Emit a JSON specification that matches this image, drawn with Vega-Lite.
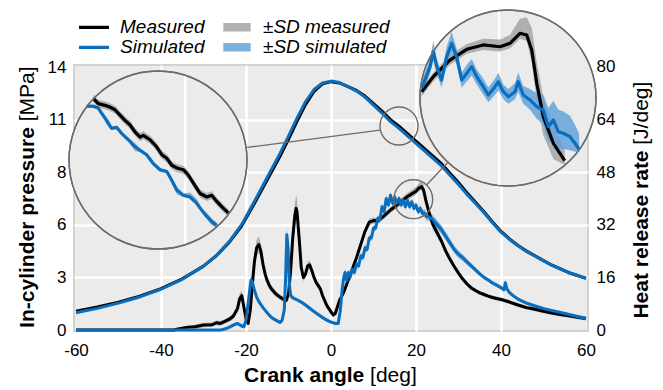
{
  "$schema": "https://vega.github.io/schema/vega-lite/v6.json",
  "width": 514,
  "height": 266,
  "autosize": {"type": "none"},
  "padding": {"left": 74, "top": 65, "right": 75, "bottom": 59},
  "background": "#ffffff",
  "config": {
    "font": "Liberation Sans",
    "view": {"fill": "#ebebeb", "stroke": "#d2d2d2", "strokeWidth": 2},
    "axis": {
      "labelFont": "Liberation Sans",
      "labelFontSize": 17,
      "labelColor": "#000000",
      "ticks": false,
      "tickSize": 0,
      "domain": false,
      "gridColor": "#ffffff",
      "gridWidth": 2.6,
      "titleFont": "Liberation Sans",
      "titleFontSize": 21,
      "titleColor": "#000000"
    },
    "legend": {
      "labelFont": "Liberation Sans",
      "labelFontSize": 19,
      "labelFontStyle": "italic",
      "labelColor": "#000000",
      "padding": 0,
      "rowPadding": 0,
      "clipHeight": 19.4
    }
  },
  "datasets": {
    "pmain": [
      {"a": -60, "s": "Measured", "v": 1.0}, {"a": -55, "s": "Measured", "v": 1.22}, {"a": -50, "s": "Measured", "v": 1.48},
      {"a": -45, "s": "Measured", "v": 1.8}, {"a": -40, "s": "Measured", "v": 2.2}, {"a": -35, "s": "Measured", "v": 2.72},
      {"a": -30, "s": "Measured", "v": 3.4}, {"a": -27, "s": "Measured", "v": 3.95}, {"a": -24, "s": "Measured", "v": 4.65},
      {"a": -21, "s": "Measured", "v": 5.55}, {"a": -18, "s": "Measured", "v": 6.75}, {"a": -15, "s": "Measured", "v": 8.0},
      {"a": -12, "s": "Measured", "v": 9.25}, {"a": -10, "s": "Measured", "v": 10.15}, {"a": -8, "s": "Measured", "v": 11.1},
      {"a": -6, "s": "Measured", "v": 12.0}, {"a": -4, "s": "Measured", "v": 12.7}, {"a": -2, "s": "Measured", "v": 13.1},
      {"a": 0, "s": "Measured", "v": 13.22}, {"a": 2, "s": "Measured", "v": 13.15}, {"a": 4, "s": "Measured", "v": 12.95},
      {"a": 6, "s": "Measured", "v": 12.75}, {"a": 8, "s": "Measured", "v": 12.45}, {"a": 10, "s": "Measured", "v": 12.05},
      {"a": 12, "s": "Measured", "v": 11.65}, {"a": 14, "s": "Measured", "v": 11.2}, {"a": 16, "s": "Measured", "v": 10.85},
      {"a": 18, "s": "Measured", "v": 10.45}, {"a": 20, "s": "Measured", "v": 10.05}, {"a": 22, "s": "Measured", "v": 9.65},
      {"a": 24, "s": "Measured", "v": 9.25}, {"a": 26, "s": "Measured", "v": 8.85}, {"a": 28, "s": "Measured", "v": 8.35},
      {"a": 30, "s": "Measured", "v": 7.85}, {"a": 32, "s": "Measured", "v": 7.3}, {"a": 34, "s": "Measured", "v": 6.8},
      {"a": 36, "s": "Measured", "v": 6.3}, {"a": 38, "s": "Measured", "v": 5.75}, {"a": 40, "s": "Measured", "v": 5.25},
      {"a": 42, "s": "Measured", "v": 4.85}, {"a": 44, "s": "Measured", "v": 4.5}, {"a": 46, "s": "Measured", "v": 4.2},
      {"a": 48, "s": "Measured", "v": 3.95}, {"a": 50, "s": "Measured", "v": 3.7}, {"a": 52, "s": "Measured", "v": 3.45},
      {"a": 54, "s": "Measured", "v": 3.25}, {"a": 56, "s": "Measured", "v": 3.05}, {"a": 58, "s": "Measured", "v": 2.9},
      {"a": 60, "s": "Measured", "v": 2.75},
      {"a": -60, "s": "Simulated", "v": 0.92}, {"a": -55, "s": "Simulated", "v": 1.15}, {"a": -50, "s": "Simulated", "v": 1.43},
      {"a": -45, "s": "Simulated", "v": 1.76}, {"a": -40, "s": "Simulated", "v": 2.17}, {"a": -35, "s": "Simulated", "v": 2.7},
      {"a": -30, "s": "Simulated", "v": 3.4}, {"a": -27, "s": "Simulated", "v": 3.97}, {"a": -24, "s": "Simulated", "v": 4.69},
      {"a": -21, "s": "Simulated", "v": 5.62}, {"a": -18, "s": "Simulated", "v": 6.85}, {"a": -15, "s": "Simulated", "v": 8.13},
      {"a": -12, "s": "Simulated", "v": 9.4}, {"a": -10, "s": "Simulated", "v": 10.32}, {"a": -8, "s": "Simulated", "v": 11.28},
      {"a": -6, "s": "Simulated", "v": 12.15}, {"a": -4, "s": "Simulated", "v": 12.8}, {"a": -2, "s": "Simulated", "v": 13.15},
      {"a": 0, "s": "Simulated", "v": 13.25}, {"a": 2, "s": "Simulated", "v": 13.17}, {"a": 4, "s": "Simulated", "v": 12.95},
      {"a": 6, "s": "Simulated", "v": 12.72}, {"a": 8, "s": "Simulated", "v": 12.4}, {"a": 10, "s": "Simulated", "v": 11.97},
      {"a": 12, "s": "Simulated", "v": 11.55}, {"a": 14, "s": "Simulated", "v": 11.09}, {"a": 16, "s": "Simulated", "v": 10.73},
      {"a": 18, "s": "Simulated", "v": 10.33}, {"a": 20, "s": "Simulated", "v": 9.93}, {"a": 22, "s": "Simulated", "v": 9.53},
      {"a": 24, "s": "Simulated", "v": 9.13}, {"a": 26, "s": "Simulated", "v": 8.73}, {"a": 28, "s": "Simulated", "v": 8.24},
      {"a": 30, "s": "Simulated", "v": 7.75}, {"a": 32, "s": "Simulated", "v": 7.22}, {"a": 34, "s": "Simulated", "v": 6.73},
      {"a": 36, "s": "Simulated", "v": 6.24}, {"a": 38, "s": "Simulated", "v": 5.71}, {"a": 40, "s": "Simulated", "v": 5.21},
      {"a": 42, "s": "Simulated", "v": 4.82}, {"a": 44, "s": "Simulated", "v": 4.48}, {"a": 46, "s": "Simulated", "v": 4.18},
      {"a": 48, "s": "Simulated", "v": 3.93}, {"a": 50, "s": "Simulated", "v": 3.68}, {"a": 52, "s": "Simulated", "v": 3.44},
      {"a": 54, "s": "Simulated", "v": 3.24}, {"a": 56, "s": "Simulated", "v": 3.05}, {"a": 58, "s": "Simulated", "v": 2.9},
      {"a": 60, "s": "Simulated", "v": 2.76}
    ],
    "hmain": [
      {"a": -60, "s": "Measured", "v": 0, "lo": 0, "hi": 0}, {"a": -37, "s": "Measured", "v": 0, "lo": 0, "hi": 0},
      {"a": -36, "s": "Measured", "v": 0.3, "lo": 0, "hi": 0.6}, {"a": -34, "s": "Measured", "v": 0.8, "lo": 0.3, "hi": 1.3},
      {"a": -32, "s": "Measured", "v": 1.0, "lo": 0.4, "hi": 1.6}, {"a": -30, "s": "Measured", "v": 1.5, "lo": 0.8, "hi": 2.2},
      {"a": -28, "s": "Measured", "v": 1.6, "lo": 0.9, "hi": 2.3}, {"a": -27, "s": "Measured", "v": 2.2, "lo": 1.5, "hi": 2.9},
      {"a": -26, "s": "Measured", "v": 2.0, "lo": 1.3, "hi": 2.7}, {"a": -25, "s": "Measured", "v": 2.6, "lo": 1.9, "hi": 3.3},
      {"a": -24, "s": "Measured", "v": 3.2, "lo": 2.4, "hi": 4.0}, {"a": -23, "s": "Measured", "v": 4.2, "lo": 3.3, "hi": 5.1},
      {"a": -22, "s": "Measured", "v": 6.5, "lo": 5.3, "hi": 7.7}, {"a": -21.5, "s": "Measured", "v": 9.5, "lo": 8.0, "hi": 11.0},
      {"a": -21, "s": "Measured", "v": 10.5, "lo": 9.0, "hi": 12.0}, {"a": -20.5, "s": "Measured", "v": 7.0, "lo": 5.8, "hi": 8.2},
      {"a": -20, "s": "Measured", "v": 3.5, "lo": 2.5, "hi": 4.5}, {"a": -19.5, "s": "Measured", "v": 2.0, "lo": 1.2, "hi": 2.8},
      {"a": -19, "s": "Measured", "v": 6.0, "lo": 4.8, "hi": 7.2}, {"a": -18.5, "s": "Measured", "v": 14.0, "lo": 12.2, "hi": 15.8},
      {"a": -18, "s": "Measured", "v": 21.0, "lo": 18.8, "hi": 23.2}, {"a": -17.5, "s": "Measured", "v": 25.0, "lo": 22.6, "hi": 27.4},
      {"a": -17, "s": "Measured", "v": 26.0, "lo": 23.5, "hi": 28.5}, {"a": -16.5, "s": "Measured", "v": 24.0, "lo": 21.8, "hi": 26.2},
      {"a": -16, "s": "Measured", "v": 20.0, "lo": 18.2, "hi": 21.8}, {"a": -15.5, "s": "Measured", "v": 17.0, "lo": 15.6, "hi": 18.4},
      {"a": -15, "s": "Measured", "v": 15.0, "lo": 13.8, "hi": 16.2}, {"a": -14.5, "s": "Measured", "v": 13.5, "lo": 12.4, "hi": 14.6},
      {"a": -14, "s": "Measured", "v": 12.5, "lo": 11.5, "hi": 13.5}, {"a": -13, "s": "Measured", "v": 11.0, "lo": 10.1, "hi": 11.9},
      {"a": -12, "s": "Measured", "v": 10.0, "lo": 9.2, "hi": 10.8}, {"a": -11, "s": "Measured", "v": 9.2, "lo": 8.4, "hi": 10.0},
      {"a": -10.5, "s": "Measured", "v": 9.0, "lo": 8.1, "hi": 9.9}, {"a": -10, "s": "Measured", "v": 11.0, "lo": 9.8, "hi": 12.2},
      {"a": -9.5, "s": "Measured", "v": 18.0, "lo": 16.0, "hi": 20.0}, {"a": -9, "s": "Measured", "v": 28.0, "lo": 25.0, "hi": 31.0},
      {"a": -8.5, "s": "Measured", "v": 35.0, "lo": 31.5, "hi": 38.5}, {"a": -8.2, "s": "Measured", "v": 37.0, "lo": 33.0, "hi": 41.0},
      {"a": -8, "s": "Measured", "v": 36.0, "lo": 32.2, "hi": 39.8}, {"a": -7.5, "s": "Measured", "v": 28.0, "lo": 25.0, "hi": 31.0},
      {"a": -7, "s": "Measured", "v": 19.0, "lo": 17.0, "hi": 21.0}, {"a": -6.5, "s": "Measured", "v": 16.0, "lo": 14.8, "hi": 17.2},
      {"a": -6, "s": "Measured", "v": 17.0, "lo": 15.8, "hi": 18.2}, {"a": -5.5, "s": "Measured", "v": 19.5, "lo": 18.2, "hi": 20.8},
      {"a": -5, "s": "Measured", "v": 19.8, "lo": 18.5, "hi": 21.1}, {"a": -4.5, "s": "Measured", "v": 18.0, "lo": 16.9, "hi": 19.1},
      {"a": -4, "s": "Measured", "v": 16.0, "lo": 15.0, "hi": 17.0}, {"a": -3.5, "s": "Measured", "v": 14.5, "lo": 13.6, "hi": 15.4},
      {"a": -3, "s": "Measured", "v": 13.5, "lo": 12.6, "hi": 14.4}, {"a": -2.5, "s": "Measured", "v": 12.5, "lo": 11.6, "hi": 13.4},
      {"a": -2, "s": "Measured", "v": 10.5, "lo": 9.6, "hi": 11.4}, {"a": -1, "s": "Measured", "v": 7.5, "lo": 6.7, "hi": 8.3},
      {"a": 0, "s": "Measured", "v": 5.5, "lo": 4.8, "hi": 6.2}, {"a": 0.5, "s": "Measured", "v": 4.6, "lo": 3.9, "hi": 5.3},
      {"a": 1, "s": "Measured", "v": 5.0, "lo": 4.3, "hi": 5.7}, {"a": 1.5, "s": "Measured", "v": 7.0, "lo": 6.2, "hi": 7.8},
      {"a": 2, "s": "Measured", "v": 9.0, "lo": 8.2, "hi": 9.8}, {"a": 3, "s": "Measured", "v": 11.5, "lo": 10.7, "hi": 12.3},
      {"a": 4, "s": "Measured", "v": 15.0, "lo": 14.1, "hi": 15.9}, {"a": 5, "s": "Measured", "v": 18.5, "lo": 17.6, "hi": 19.4},
      {"a": 6, "s": "Measured", "v": 22.0, "lo": 21.0, "hi": 23.0}, {"a": 7, "s": "Measured", "v": 26.0, "lo": 25.0, "hi": 27.0},
      {"a": 8, "s": "Measured", "v": 30.0, "lo": 29.0, "hi": 31.0}, {"a": 9, "s": "Measured", "v": 32.8, "lo": 31.8, "hi": 33.8},
      {"a": 10, "s": "Measured", "v": 33.3, "lo": 32.4, "hi": 34.2}, {"a": 11, "s": "Measured", "v": 33.2, "lo": 32.3, "hi": 34.1},
      {"a": 12, "s": "Measured", "v": 34.2, "lo": 33.3, "hi": 35.1}, {"a": 13, "s": "Measured", "v": 35.3, "lo": 34.4, "hi": 36.2},
      {"a": 14, "s": "Measured", "v": 36.5, "lo": 35.6, "hi": 37.4}, {"a": 15, "s": "Measured", "v": 37.5, "lo": 36.6, "hi": 38.4},
      {"a": 16, "s": "Measured", "v": 38.5, "lo": 37.5, "hi": 39.5}, {"a": 17, "s": "Measured", "v": 39.6, "lo": 38.6, "hi": 40.6},
      {"a": 18, "s": "Measured", "v": 40.6, "lo": 39.6, "hi": 41.7}, {"a": 19, "s": "Measured", "v": 41.4, "lo": 40.4, "hi": 42.6},
      {"a": 20, "s": "Measured", "v": 42.2, "lo": 41.2, "hi": 43.6}, {"a": 20.7, "s": "Measured", "v": 43.2, "lo": 42.2, "hi": 44.8},
      {"a": 21.3, "s": "Measured", "v": 43.6, "lo": 42.6, "hi": 45.2}, {"a": 21.8, "s": "Measured", "v": 42.5, "lo": 41.2, "hi": 44.2},
      {"a": 22.3, "s": "Measured", "v": 39.5, "lo": 37.8, "hi": 41.2}, {"a": 23, "s": "Measured", "v": 36.0, "lo": 34.4, "hi": 37.6},
      {"a": 23.5, "s": "Measured", "v": 34.0, "lo": 32.5, "hi": 35.5}, {"a": 24, "s": "Measured", "v": 32.0, "lo": 30.6, "hi": 33.4},
      {"a": 25, "s": "Measured", "v": 29.5, "lo": 28.3, "hi": 30.7}, {"a": 26, "s": "Measured", "v": 27.0, "lo": 25.9, "hi": 28.1},
      {"a": 27, "s": "Measured", "v": 24.0, "lo": 23.0, "hi": 25.0}, {"a": 28, "s": "Measured", "v": 21.5, "lo": 20.6, "hi": 22.4},
      {"a": 29, "s": "Measured", "v": 19.3, "lo": 18.5, "hi": 20.1}, {"a": 30, "s": "Measured", "v": 17.3, "lo": 16.6, "hi": 18.0},
      {"a": 31, "s": "Measured", "v": 15.5, "lo": 14.8, "hi": 16.2}, {"a": 32, "s": "Measured", "v": 14.0, "lo": 13.3, "hi": 14.7},
      {"a": 33, "s": "Measured", "v": 12.8, "lo": 12.1, "hi": 13.5}, {"a": 34, "s": "Measured", "v": 12.0, "lo": 11.4, "hi": 12.6},
      {"a": 35, "s": "Measured", "v": 11.3, "lo": 10.7, "hi": 11.9}, {"a": 36, "s": "Measured", "v": 10.8, "lo": 10.2, "hi": 11.4},
      {"a": 37, "s": "Measured", "v": 10.3, "lo": 9.7, "hi": 10.9}, {"a": 38, "s": "Measured", "v": 9.9, "lo": 9.3, "hi": 10.5},
      {"a": 40, "s": "Measured", "v": 9.3, "lo": 8.7, "hi": 9.9}, {"a": 42, "s": "Measured", "v": 8.5, "lo": 7.9, "hi": 9.1},
      {"a": 44, "s": "Measured", "v": 7.6, "lo": 7.0, "hi": 8.2}, {"a": 46, "s": "Measured", "v": 6.8, "lo": 6.2, "hi": 7.4},
      {"a": 48, "s": "Measured", "v": 6.3, "lo": 5.7, "hi": 6.9}, {"a": 50, "s": "Measured", "v": 5.7, "lo": 5.1, "hi": 6.3},
      {"a": 52, "s": "Measured", "v": 5.2, "lo": 4.6, "hi": 5.8}, {"a": 54, "s": "Measured", "v": 4.7, "lo": 4.1, "hi": 5.3},
      {"a": 56, "s": "Measured", "v": 4.3, "lo": 3.7, "hi": 4.9}, {"a": 58, "s": "Measured", "v": 3.9, "lo": 3.3, "hi": 4.5},
      {"a": 60, "s": "Measured", "v": 3.5, "lo": 2.9, "hi": 4.1},
      {"a": -60, "s": "Simulated", "v": 0, "lo": 0, "hi": 0}, {"a": -26, "s": "Simulated", "v": 0, "lo": 0, "hi": 0},
      {"a": -25, "s": "Simulated", "v": 0.3, "lo": 0, "hi": 0.6}, {"a": -24, "s": "Simulated", "v": 0.8, "lo": 0.4, "hi": 1.2},
      {"a": -23, "s": "Simulated", "v": 1.5, "lo": 1.0, "hi": 2.0}, {"a": -22, "s": "Simulated", "v": 2.0, "lo": 1.5, "hi": 2.5},
      {"a": -21, "s": "Simulated", "v": 1.2, "lo": 0.7, "hi": 1.7}, {"a": -20.5, "s": "Simulated", "v": 1.0, "lo": 0.5, "hi": 1.5},
      {"a": -20, "s": "Simulated", "v": 3.0, "lo": 2.3, "hi": 3.7}, {"a": -19.5, "s": "Simulated", "v": 8.0, "lo": 7.0, "hi": 9.0},
      {"a": -19, "s": "Simulated", "v": 13.5, "lo": 12.3, "hi": 14.7}, {"a": -18.8, "s": "Simulated", "v": 15.2, "lo": 14.0, "hi": 16.4},
      {"a": -18.5, "s": "Simulated", "v": 14.5, "lo": 13.4, "hi": 15.6}, {"a": -18, "s": "Simulated", "v": 12.0, "lo": 11.0, "hi": 13.0},
      {"a": -17.5, "s": "Simulated", "v": 10.0, "lo": 9.2, "hi": 10.8}, {"a": -17, "s": "Simulated", "v": 8.7, "lo": 8.0, "hi": 9.4},
      {"a": -16, "s": "Simulated", "v": 6.8, "lo": 6.2, "hi": 7.4}, {"a": -15, "s": "Simulated", "v": 5.2, "lo": 4.7, "hi": 5.7},
      {"a": -14, "s": "Simulated", "v": 3.8, "lo": 3.3, "hi": 4.3}, {"a": -13, "s": "Simulated", "v": 3.0, "lo": 2.5, "hi": 3.5},
      {"a": -12, "s": "Simulated", "v": 2.3, "lo": 1.8, "hi": 2.8}, {"a": -11.5, "s": "Simulated", "v": 3.0, "lo": 2.4, "hi": 3.6},
      {"a": -11, "s": "Simulated", "v": 6.0, "lo": 5.0, "hi": 7.0}, {"a": -10.7, "s": "Simulated", "v": 15.0, "lo": 13.5, "hi": 16.5},
      {"a": -10.4, "s": "Simulated", "v": 29.0, "lo": 27.0, "hi": 31.0}, {"a": -10.1, "s": "Simulated", "v": 25.0, "lo": 23.2, "hi": 26.8},
      {"a": -9.8, "s": "Simulated", "v": 14.0, "lo": 12.8, "hi": 15.2}, {"a": -9.5, "s": "Simulated", "v": 10.5, "lo": 9.7, "hi": 11.3},
      {"a": -9, "s": "Simulated", "v": 9.8, "lo": 9.2, "hi": 10.4}, {"a": -8, "s": "Simulated", "v": 9.2, "lo": 8.7, "hi": 9.7},
      {"a": -7, "s": "Simulated", "v": 8.5, "lo": 8.0, "hi": 9.0}, {"a": -6, "s": "Simulated", "v": 7.6, "lo": 7.1, "hi": 8.1},
      {"a": -5, "s": "Simulated", "v": 6.6, "lo": 6.1, "hi": 7.1}, {"a": -4, "s": "Simulated", "v": 5.6, "lo": 5.1, "hi": 6.1},
      {"a": -3, "s": "Simulated", "v": 4.7, "lo": 4.2, "hi": 5.2}, {"a": -2, "s": "Simulated", "v": 3.8, "lo": 3.3, "hi": 4.3},
      {"a": -1, "s": "Simulated", "v": 3.0, "lo": 2.5, "hi": 3.5}, {"a": 0, "s": "Simulated", "v": 2.4, "lo": 1.9, "hi": 2.9},
      {"a": 1, "s": "Simulated", "v": 2.0, "lo": 1.5, "hi": 2.5}, {"a": 1.7, "s": "Simulated", "v": 2.0, "lo": 1.5, "hi": 2.5},
      {"a": 2.2, "s": "Simulated", "v": 6.0, "lo": 5.2, "hi": 6.8}, {"a": 2.6, "s": "Simulated", "v": 12.0, "lo": 11.0, "hi": 13.0},
      {"a": 3, "s": "Simulated", "v": 16.0, "lo": 15.0, "hi": 17.0}, {"a": 3.3, "s": "Simulated", "v": 17.5, "lo": 16.5, "hi": 18.5},
      {"a": 3.7, "s": "Simulated", "v": 15.0, "lo": 14.1, "hi": 15.9}, {"a": 4.1, "s": "Simulated", "v": 17.5, "lo": 16.6, "hi": 18.4},
      {"a": 4.5, "s": "Simulated", "v": 16.0, "lo": 15.1, "hi": 16.9}, {"a": 5, "s": "Simulated", "v": 18.5, "lo": 17.6, "hi": 19.4},
      {"a": 5.5, "s": "Simulated", "v": 17.5, "lo": 16.6, "hi": 18.4}, {"a": 6, "s": "Simulated", "v": 20.0, "lo": 19.1, "hi": 20.9},
      {"a": 6.5, "s": "Simulated", "v": 19.5, "lo": 18.6, "hi": 20.4}, {"a": 7, "s": "Simulated", "v": 22.5, "lo": 21.6, "hi": 23.4},
      {"a": 7.5, "s": "Simulated", "v": 22.0, "lo": 21.1, "hi": 22.9}, {"a": 8, "s": "Simulated", "v": 25.0, "lo": 24.1, "hi": 25.9},
      {"a": 8.5, "s": "Simulated", "v": 24.5, "lo": 23.6, "hi": 25.4}, {"a": 9, "s": "Simulated", "v": 28.0, "lo": 27.1, "hi": 28.9},
      {"a": 9.5, "s": "Simulated", "v": 28.0, "lo": 27.1, "hi": 28.9}, {"a": 10, "s": "Simulated", "v": 31.0, "lo": 30.1, "hi": 31.9},
      {"a": 10.5, "s": "Simulated", "v": 31.0, "lo": 30.1, "hi": 31.9}, {"a": 11, "s": "Simulated", "v": 34.0, "lo": 33.1, "hi": 34.9},
      {"a": 11.5, "s": "Simulated", "v": 33.5, "lo": 32.6, "hi": 34.4}, {"a": 12, "s": "Simulated", "v": 37.5, "lo": 36.6, "hi": 38.4},
      {"a": 12.5, "s": "Simulated", "v": 36.0, "lo": 35.1, "hi": 36.9}, {"a": 13, "s": "Simulated", "v": 40.0, "lo": 39.1, "hi": 40.9},
      {"a": 13.5, "s": "Simulated", "v": 38.0, "lo": 37.1, "hi": 38.9}, {"a": 14, "s": "Simulated", "v": 41.0, "lo": 40.1, "hi": 41.9},
      {"a": 14.5, "s": "Simulated", "v": 38.5, "lo": 37.6, "hi": 39.4}, {"a": 15, "s": "Simulated", "v": 40.5, "lo": 39.6, "hi": 41.4},
      {"a": 15.5, "s": "Simulated", "v": 38.5, "lo": 37.6, "hi": 39.4}, {"a": 16, "s": "Simulated", "v": 40.0, "lo": 39.1, "hi": 40.9},
      {"a": 16.5, "s": "Simulated", "v": 38.0, "lo": 37.1, "hi": 38.9}, {"a": 17, "s": "Simulated", "v": 39.5, "lo": 38.6, "hi": 40.4},
      {"a": 17.5, "s": "Simulated", "v": 37.5, "lo": 36.6, "hi": 38.4}, {"a": 18, "s": "Simulated", "v": 39.5, "lo": 38.6, "hi": 40.4},
      {"a": 18.5, "s": "Simulated", "v": 37.5, "lo": 36.6, "hi": 38.4}, {"a": 19, "s": "Simulated", "v": 39.0, "lo": 38.1, "hi": 39.9},
      {"a": 19.5, "s": "Simulated", "v": 37.0, "lo": 36.1, "hi": 37.9}, {"a": 20, "s": "Simulated", "v": 38.0, "lo": 37.1, "hi": 38.9},
      {"a": 20.5, "s": "Simulated", "v": 36.0, "lo": 35.0, "hi": 37.0}, {"a": 21, "s": "Simulated", "v": 37.0, "lo": 36.0, "hi": 38.0},
      {"a": 21.5, "s": "Simulated", "v": 35.5, "lo": 34.4, "hi": 36.6}, {"a": 22, "s": "Simulated", "v": 35.5, "lo": 34.3, "hi": 36.7},
      {"a": 22.5, "s": "Simulated", "v": 34.5, "lo": 33.3, "hi": 35.7}, {"a": 23, "s": "Simulated", "v": 34.5, "lo": 33.3, "hi": 35.7},
      {"a": 24, "s": "Simulated", "v": 33.5, "lo": 32.2, "hi": 34.8}, {"a": 25, "s": "Simulated", "v": 32.0, "lo": 30.7, "hi": 33.3},
      {"a": 26, "s": "Simulated", "v": 30.5, "lo": 29.2, "hi": 31.8}, {"a": 27, "s": "Simulated", "v": 28.5, "lo": 27.2, "hi": 29.8},
      {"a": 28, "s": "Simulated", "v": 26.5, "lo": 25.3, "hi": 27.7}, {"a": 29, "s": "Simulated", "v": 24.5, "lo": 23.4, "hi": 25.6},
      {"a": 30, "s": "Simulated", "v": 23.0, "lo": 21.9, "hi": 24.1}, {"a": 31, "s": "Simulated", "v": 22.0, "lo": 21.0, "hi": 23.0},
      {"a": 32, "s": "Simulated", "v": 20.7, "lo": 19.8, "hi": 21.6}, {"a": 33, "s": "Simulated", "v": 19.5, "lo": 18.7, "hi": 20.3},
      {"a": 34, "s": "Simulated", "v": 18.3, "lo": 17.6, "hi": 19.0}, {"a": 35, "s": "Simulated", "v": 17.1, "lo": 16.4, "hi": 17.8},
      {"a": 36, "s": "Simulated", "v": 16.0, "lo": 15.4, "hi": 16.6}, {"a": 37, "s": "Simulated", "v": 15.2, "lo": 14.6, "hi": 15.8},
      {"a": 38, "s": "Simulated", "v": 14.3, "lo": 13.7, "hi": 14.9}, {"a": 39, "s": "Simulated", "v": 13.6, "lo": 13.0, "hi": 14.2},
      {"a": 40, "s": "Simulated", "v": 12.9, "lo": 12.3, "hi": 13.5}, {"a": 40.7, "s": "Simulated", "v": 12.2, "lo": 11.6, "hi": 12.8},
      {"a": 41, "s": "Simulated", "v": 14.4, "lo": 13.6, "hi": 15.2}, {"a": 41.4, "s": "Simulated", "v": 12.5, "lo": 11.9, "hi": 13.1},
      {"a": 42, "s": "Simulated", "v": 11.4, "lo": 10.8, "hi": 12.0}, {"a": 43, "s": "Simulated", "v": 10.3, "lo": 9.8, "hi": 10.8},
      {"a": 44, "s": "Simulated", "v": 9.4, "lo": 8.9, "hi": 9.9}, {"a": 45, "s": "Simulated", "v": 8.8, "lo": 8.3, "hi": 9.3},
      {"a": 46, "s": "Simulated", "v": 8.2, "lo": 7.7, "hi": 8.7}, {"a": 48, "s": "Simulated", "v": 7.3, "lo": 6.8, "hi": 7.8},
      {"a": 50, "s": "Simulated", "v": 6.5, "lo": 6.0, "hi": 7.0}, {"a": 52, "s": "Simulated", "v": 5.9, "lo": 5.4, "hi": 6.4},
      {"a": 54, "s": "Simulated", "v": 5.3, "lo": 4.8, "hi": 5.8}, {"a": 56, "s": "Simulated", "v": 4.7, "lo": 4.2, "hi": 5.2},
      {"a": 58, "s": "Simulated", "v": 4.1, "lo": 3.6, "hi": 4.6}, {"a": 60, "s": "Simulated", "v": 3.5, "lo": 3.0, "hi": 4.0}
    ],
    "pspot": [{"a": 16.0, "v": 10.86}],
    "plink": [{"a": -19.69, "v": 9.72, "a2": 11.53, "v2": 10.64}],
    "hspot": [{"a": 19.36, "v": 39.79}],
    "hlink": [{"a": 22.42, "v": 44.05, "a2": 27.46, "v2": 50.97}],
    "pgrid": [{"a": 17.36, "v": 9.9, "v2": 11.82}],
    "hgrid": [{"a": 18.89, "v": 33.93, "v2": 45.65}],
    "pzoom": [
      {"a": 12.75, "s": "Measured", "v": 11.56, "lo": 11.515, "hi": 11.6}, {"a": 13.0, "s": "Measured", "v": 11.5, "lo": 11.455, "hi": 11.545},
      {"a": 13.34, "s": "Measured", "v": 11.48, "lo": 11.435, "hi": 11.525}, {"a": 13.59, "s": "Measured", "v": 11.46, "lo": 11.415, "hi": 11.505},
      {"a": 13.84, "s": "Measured", "v": 11.43, "lo": 11.385, "hi": 11.475}, {"a": 14.09, "s": "Measured", "v": 11.37, "lo": 11.325, "hi": 11.415},
      {"a": 14.34, "s": "Measured", "v": 11.31, "lo": 11.265, "hi": 11.355}, {"a": 14.59, "s": "Measured", "v": 11.26, "lo": 11.215, "hi": 11.305},
      {"a": 14.84, "s": "Measured", "v": 11.18, "lo": 11.135, "hi": 11.225}, {"a": 15.1, "s": "Measured", "v": 11.12, "lo": 11.075, "hi": 11.165},
      {"a": 15.26, "s": "Measured", "v": 11.14, "lo": 11.095, "hi": 11.185}, {"a": 15.6, "s": "Measured", "v": 11.09, "lo": 11.045, "hi": 11.135},
      {"a": 15.93, "s": "Measured", "v": 11.01, "lo": 10.965, "hi": 11.055}, {"a": 16.19, "s": "Measured", "v": 10.92, "lo": 10.875, "hi": 10.965},
      {"a": 16.44, "s": "Measured", "v": 10.88, "lo": 10.835, "hi": 10.925}, {"a": 16.69, "s": "Measured", "v": 10.8, "lo": 10.755, "hi": 10.845},
      {"a": 16.94, "s": "Measured", "v": 10.77, "lo": 10.725, "hi": 10.815}, {"a": 17.27, "s": "Measured", "v": 10.75, "lo": 10.705, "hi": 10.795},
      {"a": 17.52, "s": "Measured", "v": 10.69, "lo": 10.645, "hi": 10.735}, {"a": 17.77, "s": "Measured", "v": 10.6, "lo": 10.555, "hi": 10.645},
      {"a": 18.11, "s": "Measured", "v": 10.48, "lo": 10.435, "hi": 10.525}, {"a": 18.45, "s": "Measured", "v": 10.44, "lo": 10.395, "hi": 10.485},
      {"a": 18.7, "s": "Measured", "v": 10.46, "lo": 10.415, "hi": 10.505}, {"a": 18.95, "s": "Measured", "v": 10.39, "lo": 10.345, "hi": 10.435},
      {"a": 19.2, "s": "Measured", "v": 10.33, "lo": 10.285, "hi": 10.375}, {"a": 19.53, "s": "Measured", "v": 10.26, "lo": 10.22, "hi": 10.3},
      {"a": 12.42, "s": "Simulated", "v": 11.47, "lo": 11.45, "hi": 11.49}, {"a": 12.75, "s": "Simulated", "v": 11.47, "lo": 11.45, "hi": 11.49},
      {"a": 13.0, "s": "Simulated", "v": 11.45, "lo": 11.43, "hi": 11.47}, {"a": 13.17, "s": "Simulated", "v": 11.39, "lo": 11.37, "hi": 11.41},
      {"a": 13.42, "s": "Simulated", "v": 11.31, "lo": 11.26, "hi": 11.33}, {"a": 13.67, "s": "Simulated", "v": 11.22, "lo": 11.2, "hi": 11.24},
      {"a": 13.93, "s": "Simulated", "v": 11.23, "lo": 11.21, "hi": 11.25}, {"a": 14.18, "s": "Simulated", "v": 11.16, "lo": 11.14, "hi": 11.18},
      {"a": 14.51, "s": "Simulated", "v": 11.09, "lo": 11.07, "hi": 11.11}, {"a": 14.85, "s": "Simulated", "v": 11.01, "lo": 10.96, "hi": 11.05},
      {"a": 15.1, "s": "Simulated", "v": 10.97, "lo": 10.95, "hi": 10.99}, {"a": 15.43, "s": "Simulated", "v": 10.92, "lo": 10.9, "hi": 10.94},
      {"a": 15.76, "s": "Simulated", "v": 10.82, "lo": 10.8, "hi": 10.84}, {"a": 16.1, "s": "Simulated", "v": 10.75, "lo": 10.73, "hi": 10.77},
      {"a": 16.44, "s": "Simulated", "v": 10.73, "lo": 10.71, "hi": 10.75}, {"a": 16.69, "s": "Simulated", "v": 10.63, "lo": 10.61, "hi": 10.65},
      {"a": 16.94, "s": "Simulated", "v": 10.52, "lo": 10.47, "hi": 10.56}, {"a": 17.27, "s": "Simulated", "v": 10.46, "lo": 10.44, "hi": 10.48},
      {"a": 17.61, "s": "Simulated", "v": 10.44, "lo": 10.42, "hi": 10.49}, {"a": 17.94, "s": "Simulated", "v": 10.37, "lo": 10.35, "hi": 10.42},
      {"a": 18.2, "s": "Simulated", "v": 10.29, "lo": 10.27, "hi": 10.31}, {"a": 18.45, "s": "Simulated", "v": 10.22, "lo": 10.19, "hi": 10.26},
      {"a": 18.7, "s": "Simulated", "v": 10.16, "lo": 10.12, "hi": 10.2}, {"a": 18.95, "s": "Simulated", "v": 10.12, "lo": 10.09, "hi": 10.15}
    ],
    "hzoom": [
      {"a": 14.89, "s": "Measured", "v": 40.21, "lo": 39.9, "hi": 40.5}, {"a": 15.49, "s": "Measured", "v": 41.22, "lo": 40.9, "hi": 41.5},
      {"a": 16.35, "s": "Measured", "v": 42.33, "lo": 42.0, "hi": 42.65}, {"a": 17.22, "s": "Measured", "v": 43.05, "lo": 42.75, "hi": 43.4},
      {"a": 18.08, "s": "Measured", "v": 43.34, "lo": 43.0, "hi": 43.75}, {"a": 18.95, "s": "Measured", "v": 43.22, "lo": 42.9, "hi": 43.7},
      {"a": 19.46, "s": "Measured", "v": 43.45, "lo": 43.1, "hi": 44.0}, {"a": 19.98, "s": "Measured", "v": 44.12, "lo": 43.75, "hi": 45.1},
      {"a": 20.33, "s": "Measured", "v": 44.01, "lo": 43.6, "hi": 45.2}, {"a": 20.59, "s": "Measured", "v": 43.0, "lo": 42.2, "hi": 44.5},
      {"a": 20.85, "s": "Measured", "v": 40.77, "lo": 39.6, "hi": 42.2}, {"a": 21.19, "s": "Measured", "v": 38.54, "lo": 37.3, "hi": 39.8},
      {"a": 21.71, "s": "Measured", "v": 36.76, "lo": 35.7, "hi": 37.9}, {"a": 22.3, "s": "Measured", "v": 35.6, "lo": 35.3, "hi": 36.4},
      {"a": 14.89, "s": "Simulated", "v": 40.44, "lo": 40.0, "hi": 40.9}, {"a": 15.32, "s": "Simulated", "v": 41.89, "lo": 41.4, "hi": 42.4},
      {"a": 15.49, "s": "Simulated", "v": 42.89, "lo": 42.3, "hi": 43.6}, {"a": 15.67, "s": "Simulated", "v": 41.89, "lo": 41.4, "hi": 42.4},
      {"a": 15.92, "s": "Simulated", "v": 41.0, "lo": 40.5, "hi": 41.5}, {"a": 16.18, "s": "Simulated", "v": 42.55, "lo": 42.0, "hi": 43.2},
      {"a": 16.44, "s": "Simulated", "v": 43.45, "lo": 42.8, "hi": 44.2}, {"a": 16.7, "s": "Simulated", "v": 42.55, "lo": 42.0, "hi": 43.1},
      {"a": 16.96, "s": "Simulated", "v": 41.0, "lo": 40.5, "hi": 41.5}, {"a": 17.22, "s": "Simulated", "v": 41.44, "lo": 40.9, "hi": 42.0},
      {"a": 17.48, "s": "Simulated", "v": 41.89, "lo": 41.3, "hi": 42.4}, {"a": 17.74, "s": "Simulated", "v": 41.22, "lo": 40.7, "hi": 41.7},
      {"a": 18.08, "s": "Simulated", "v": 40.55, "lo": 40.0, "hi": 41.1}, {"a": 18.34, "s": "Simulated", "v": 39.99, "lo": 39.5, "hi": 40.5},
      {"a": 18.69, "s": "Simulated", "v": 40.55, "lo": 40.0, "hi": 41.1}, {"a": 18.86, "s": "Simulated", "v": 40.88, "lo": 40.3, "hi": 41.5},
      {"a": 19.12, "s": "Simulated", "v": 40.21, "lo": 39.7, "hi": 40.7}, {"a": 19.38, "s": "Simulated", "v": 39.88, "lo": 39.4, "hi": 40.4},
      {"a": 19.72, "s": "Simulated", "v": 40.21, "lo": 39.7, "hi": 40.8}, {"a": 19.89, "s": "Simulated", "v": 40.88, "lo": 40.2, "hi": 41.5},
      {"a": 20.15, "s": "Simulated", "v": 39.99, "lo": 39.4, "hi": 40.6}, {"a": 20.5, "s": "Simulated", "v": 39.66, "lo": 39.0, "hi": 40.4},
      {"a": 20.85, "s": "Simulated", "v": 39.21, "lo": 38.4, "hi": 40.1}, {"a": 21.19, "s": "Simulated", "v": 38.99, "lo": 38.0, "hi": 40.0},
      {"a": 21.45, "s": "Simulated", "v": 37.87, "lo": 36.8, "hi": 39.1}, {"a": 21.71, "s": "Simulated", "v": 38.32, "lo": 37.1, "hi": 39.6},
      {"a": 21.97, "s": "Simulated", "v": 37.53, "lo": 36.4, "hi": 39.0}, {"a": 22.22, "s": "Simulated", "v": 37.43, "lo": 36.4, "hi": 38.9},
      {"a": 22.57, "s": "Simulated", "v": 37.2, "lo": 36.3, "hi": 38.6}, {"a": 22.83, "s": "Simulated", "v": 36.76, "lo": 36.2, "hi": 38.0},
      {"a": 23.05, "s": "Simulated", "v": 36.35, "lo": 36.2, "hi": 37.4}
    ]
  },
  "layer": [
    {
      "data": {"name": "pmain"},
      "mark": {"type": "line", "strokeWidth": 3, "strokeJoin": "round"},
      "encoding": {
        "x": {
          "field": "a", "type": "quantitative",
          "scale": {"domain": [-60.4706, 60.4706], "nice": false, "zero": false},
          "axis": {
            "orient": "bottom",
            "values": [-60, -40, -20, 0, 20, 40, 60],
            "labelExpr": "datum.value < 0 ? '-' + abs(datum.value) : '' + datum.value",
            "labelPadding": 11,
            "gridOpacity": {"condition": {"test": "abs(datum.value) == 60", "value": 0}, "value": 1},
            "title": "Crank angle", "titleFontWeight": "bold",
            "titleX": 229.7, "titleY": 50, "titleAlign": "center", "titleBaseline": "alphabetic"
          }
        },
        "y": {
          "field": "v", "type": "quantitative",
          "scale": {"domain": [-0.0532, 14.1065], "nice": false, "zero": false},
          "axis": {
            "orient": "left",
            "values": [0, 2.8, 5.6, 8.4, 11.2, 14], "format": ".0f",
            "labelPadding": 8,
            "gridOpacity": {"condition": {"test": "datum.value == 0 || datum.value == 14", "value": 0}, "value": 1},
            "title": "In-cylinder pressure", "titleFontWeight": "bold", "titleAngle": 270,
            "titleX": -41, "titleY": 162, "titleAlign": "center", "titleBaseline": "alphabetic"
          }
        },
        "stroke": {
          "field": "s", "type": "nominal",
          "scale": {"domain": ["Measured", "Simulated"], "range": ["#000000", "#0a6ebd"]},
          "legend": {
            "orient": "none", "legendX": 3, "legendY": -47.4, "title": null,
            "symbolType": "stroke", "symbolSize": 900, "symbolStrokeWidth": 3.2,
            "labelOffset": 9
          }
        }
      }
    },
    {
      "data": {"name": "pspot"},
      "mark": {"type": "point", "shape": "circle", "size": 1444, "filled": false, "stroke": "#6b6b6b", "strokeWidth": 1.4, "opacity": 1},
      "encoding": {
        "x": {"field": "a", "type": "quantitative", "scale": {"domain": [-60.4706, 60.4706], "nice": false, "zero": false}, "axis": null},
        "y": {"field": "v", "type": "quantitative", "scale": {"domain": [-0.0532, 14.1065], "nice": false, "zero": false}, "axis": null}
      }
    },
    {
      "data": {"name": "plink"},
      "mark": {"type": "rule", "stroke": "#6b6b6b", "strokeWidth": 1.3},
      "encoding": {
        "x": {"field": "a", "type": "quantitative", "scale": {"domain": [-60.4706, 60.4706], "nice": false, "zero": false}, "axis": null},
        "y": {"field": "v", "type": "quantitative", "scale": {"domain": [-0.0532, 14.1065], "nice": false, "zero": false}, "axis": null},
        "x2": {"field": "a2"},
        "y2": {"field": "v2"}
      }
    },
    {
      "data": {"name": "hmain"},
      "mark": {"type": "area", "opacity": 0.85},
      "encoding": {
        "x": {"field": "a", "type": "quantitative", "scale": {"domain": [-60.4706, 60.4706], "nice": false, "zero": false}, "axis": null},
        "y": {
          "field": "lo", "type": "quantitative",
          "scale": {"domain": [-0.304, 80.608], "nice": false, "zero": false},
          "axis": {
            "orient": "right",
            "values": [0, 16, 32, 48, 64, 80],
            "labelPadding": 8, "grid": false,
            "title": "Heat release rate", "titleFontWeight": "bold", "titleAngle": 270,
            "titleX": 59.3, "titleY": 169, "titleAlign": "center", "titleBaseline": "alphabetic"
          }
        },
        "y2": {"field": "hi"},
        "fill": {
          "field": "s", "type": "nominal",
          "scale": {"range": ["#a4a4a4", "#64a3d8"]},
          "legend": {
            "orient": "none", "legendX": 149, "legendY": -47.4, "title": null,
            "symbolType": "M-1,-0.31H1V0.31H-1Z", "symbolSize": 750, "symbolStrokeWidth": 0,
            "labelOffset": 12,
            "labelExpr": "'±SD ' + lower(datum.label)"
          }
        }
      }
    },
    {
      "data": {"name": "hmain"},
      "mark": {"type": "line", "strokeWidth": 3, "strokeJoin": "round"},
      "encoding": {
        "x": {"field": "a", "type": "quantitative", "scale": {"domain": [-60.4706, 60.4706], "nice": false, "zero": false}, "axis": null},
        "y": {"field": "v", "type": "quantitative", "scale": {"domain": [-0.304, 80.608], "nice": false, "zero": false}, "axis": null},
        "stroke": {"field": "s", "type": "nominal", "scale": {"domain": ["Measured", "Simulated"], "range": ["#000000", "#0a6ebd"]}, "legend": null}
      }
    },
    {
      "data": {"name": "hspot"},
      "mark": {"type": "point", "shape": "circle", "size": 1505, "filled": false, "stroke": "#6b6b6b", "strokeWidth": 1.4, "opacity": 1},
      "encoding": {
        "x": {"field": "a", "type": "quantitative", "scale": {"domain": [-60.4706, 60.4706], "nice": false, "zero": false}, "axis": null},
        "y": {"field": "v", "type": "quantitative", "scale": {"domain": [-0.304, 80.608], "nice": false, "zero": false}, "axis": null}
      }
    },
    {
      "data": {"name": "hlink"},
      "mark": {"type": "rule", "stroke": "#6b6b6b", "strokeWidth": 1.3},
      "encoding": {
        "x": {"field": "a", "type": "quantitative", "scale": {"domain": [-60.4706, 60.4706], "nice": false, "zero": false}, "axis": null},
        "y": {"field": "v", "type": "quantitative", "scale": {"domain": [-0.304, 80.608], "nice": false, "zero": false}, "axis": null},
        "x2": {"field": "a2"},
        "y2": {"field": "v2"}
      }
    },
    {
      "data": {"name": "pspot"},
      "mark": {"type": "point", "shape": "circle", "size": 31684, "filled": true, "fill": "#ebebeb", "stroke": "#6b6b6b", "strokeWidth": 1.4, "opacity": 1, "fillOpacity": 1},
      "encoding": {
        "x": {
          "field": "a", "type": "quantitative",
          "scale": {"domain": [11.53, 20.47], "range": [-5, 173], "nice": false, "zero": false},
          "axis": {
            "orient": "bottom", "labels": false, "grid": false,
            "title": "[deg]", "titleFontWeight": "normal",
            "titleX": 318.95, "titleY": 50, "titleAlign": "center", "titleBaseline": "alphabetic"
          }
        },
        "y": {
          "field": "v", "type": "quantitative",
          "scale": {"domain": [9.85, 11.87], "range": [184, 6], "nice": false, "zero": false},
          "axis": {
            "orient": "left", "labels": false, "grid": false,
            "title": "[MPa]", "titleFontWeight": "normal", "titleAngle": 270,
            "titleX": -41, "titleY": 28.45, "titleAlign": "center", "titleBaseline": "alphabetic"
          }
        }
      }
    },
    {
      "data": {"name": "pgrid"},
      "mark": {"type": "rule", "stroke": "#ffffff", "strokeWidth": 2.6},
      "encoding": {
        "x": {"field": "a", "type": "quantitative", "scale": {"domain": [11.53, 20.47], "range": [-5, 173], "nice": false, "zero": false}, "axis": null},
        "y": {"field": "v", "type": "quantitative", "scale": {"domain": [9.85, 11.87], "range": [184, 6], "nice": false, "zero": false}, "axis": null},
        "y2": {"field": "v2"}
      }
    },
    {
      "data": {"name": "pzoom"},
      "mark": {"type": "area", "opacity": 0.8},
      "encoding": {
        "x": {"field": "a", "type": "quantitative", "scale": {"domain": [11.53, 20.47], "range": [-5, 173], "nice": false, "zero": false}, "axis": null},
        "y": {"field": "lo", "type": "quantitative", "scale": {"domain": [9.85, 11.87], "range": [184, 6], "nice": false, "zero": false}, "axis": null},
        "y2": {"field": "hi"},
        "fill": {"field": "s", "type": "nominal", "scale": {"range": ["#a4a4a4", "#64a3d8"]}, "legend": null}
      }
    },
    {
      "data": {"name": "pzoom"},
      "mark": {"type": "line", "strokeWidth": 3.2, "strokeJoin": "round"},
      "encoding": {
        "x": {"field": "a", "type": "quantitative", "scale": {"domain": [11.53, 20.47], "range": [-5, 173], "nice": false, "zero": false}, "axis": null},
        "y": {"field": "v", "type": "quantitative", "scale": {"domain": [9.85, 11.87], "range": [184, 6], "nice": false, "zero": false}, "axis": null},
        "stroke": {"field": "s", "type": "nominal", "scale": {"domain": ["Measured", "Simulated"], "range": ["#000000", "#0a6ebd"]}, "legend": null}
      }
    },
    {
      "data": {"name": "pspot"},
      "mark": {"type": "point", "shape": "circle", "size": 31684, "filled": false, "stroke": "#6b6b6b", "strokeWidth": 1.4, "opacity": 1},
      "encoding": {
        "x": {"field": "a", "type": "quantitative", "scale": {"domain": [11.53, 20.47], "range": [-5, 173], "nice": false, "zero": false}, "axis": null},
        "y": {"field": "v", "type": "quantitative", "scale": {"domain": [9.85, 11.87], "range": [184, 6], "nice": false, "zero": false}, "axis": null}
      }
    },
    {
      "data": {"name": "hspot"},
      "mark": {"type": "point", "shape": "circle", "size": 30976, "filled": true, "fill": "#ebebeb", "stroke": "#6b6b6b", "strokeWidth": 1.4, "opacity": 1, "fillOpacity": 1},
      "encoding": {
        "x": {"field": "a", "type": "quantitative", "scale": {"domain": [14.8, 23.92], "range": [346, 522], "nice": false, "zero": false}, "axis": null},
        "y": {
          "field": "v", "type": "quantitative",
          "scale": {"domain": [33.9, 45.68], "range": [121, -55], "nice": false, "zero": false},
          "axis": {
            "orient": "right", "labels": false, "grid": false,
            "title": "[J/deg]", "titleFontWeight": "normal", "titleAngle": 270,
            "titleX": 59.3, "titleY": 47.7, "titleAlign": "center", "titleBaseline": "alphabetic"
          }
        }
      }
    },
    {
      "data": {"name": "hgrid"},
      "mark": {"type": "rule", "stroke": "#ffffff", "strokeWidth": 2.6},
      "encoding": {
        "x": {"field": "a", "type": "quantitative", "scale": {"domain": [14.8, 23.92], "range": [346, 522], "nice": false, "zero": false}, "axis": null},
        "y": {"field": "v", "type": "quantitative", "scale": {"domain": [33.9, 45.68], "range": [121, -55], "nice": false, "zero": false}, "axis": null},
        "y2": {"field": "v2"}
      }
    },
    {
      "data": {"name": "hzoom"},
      "mark": {"type": "area", "opacity": 0.85},
      "encoding": {
        "x": {"field": "a", "type": "quantitative", "scale": {"domain": [14.8, 23.92], "range": [346, 522], "nice": false, "zero": false}, "axis": null},
        "y": {"field": "lo", "type": "quantitative", "scale": {"domain": [33.9, 45.68], "range": [121, -55], "nice": false, "zero": false}, "axis": null},
        "y2": {"field": "hi"},
        "fill": {"field": "s", "type": "nominal", "scale": {"range": ["#a4a4a4", "#64a3d8"]}, "legend": null}
      }
    },
    {
      "data": {"name": "hzoom"},
      "mark": {"type": "line", "strokeWidth": 3.2, "strokeJoin": "round"},
      "encoding": {
        "x": {"field": "a", "type": "quantitative", "scale": {"domain": [14.8, 23.92], "range": [346, 522], "nice": false, "zero": false}, "axis": null},
        "y": {"field": "v", "type": "quantitative", "scale": {"domain": [33.9, 45.68], "range": [121, -55], "nice": false, "zero": false}, "axis": null},
        "stroke": {"field": "s", "type": "nominal", "scale": {"domain": ["Measured", "Simulated"], "range": ["#000000", "#0a6ebd"]}, "legend": null}
      }
    },
    {
      "data": {"name": "hspot"},
      "mark": {"type": "point", "shape": "circle", "size": 30976, "filled": false, "stroke": "#6b6b6b", "strokeWidth": 1.4, "opacity": 1},
      "encoding": {
        "x": {"field": "a", "type": "quantitative", "scale": {"domain": [14.8, 23.92], "range": [346, 522], "nice": false, "zero": false}, "axis": null},
        "y": {"field": "v", "type": "quantitative", "scale": {"domain": [33.9, 45.68], "range": [121, -55], "nice": false, "zero": false}, "axis": null}
      }
    }
  ],
  "resolve": {"scale": {"x": "independent", "y": "independent"}}
}
